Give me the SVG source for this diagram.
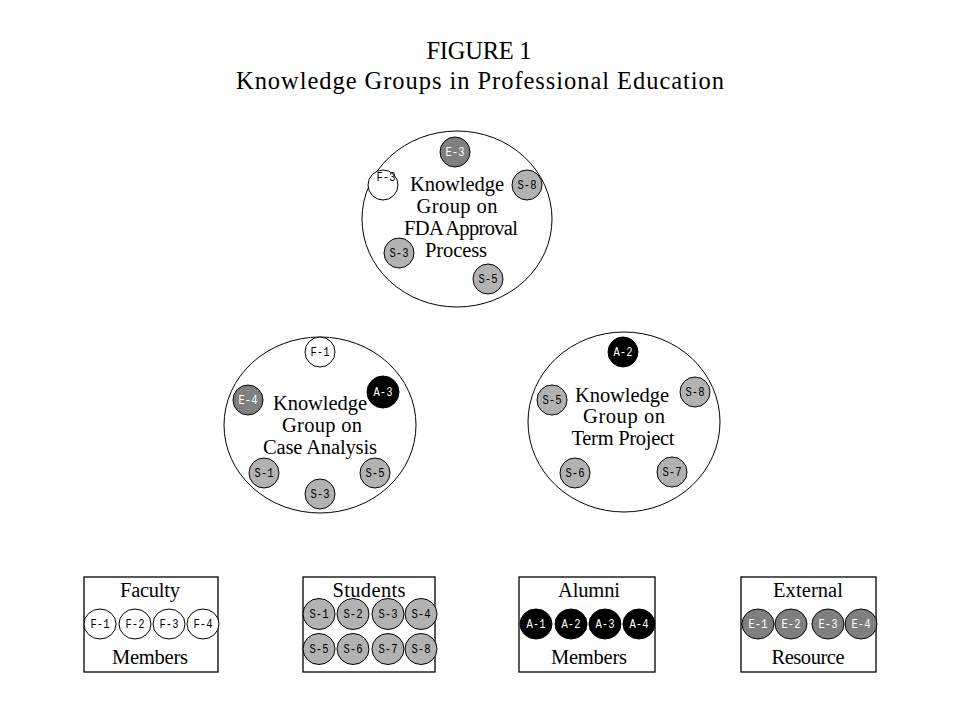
<svg xmlns="http://www.w3.org/2000/svg" width="959" height="719" viewBox="0 0 959 719">
<style>
.bg{fill:#fff}
.big{fill:#fff;stroke:#000;stroke-width:1}
.box{fill:#fff;stroke:#000;stroke-width:1.3}
.m{stroke:#000;stroke-width:1}
.f{fill:#fff}
.s{fill:#b2b2b2}
.a{fill:#000}
.e{fill:#7f7f7f}
.t{font-family:"Liberation Serif","Times New Roman",serif;font-size:20.5px;fill:#000;text-anchor:middle}
.title{font-family:"Liberation Serif","Times New Roman",serif;font-size:24.5px;fill:#000;text-anchor:middle}
.l{font-family:"Liberation Mono","Courier New",monospace;font-size:12px;fill:#000;text-anchor:middle}
.lw{font-family:"Liberation Mono","Courier New",monospace;font-size:12px;fill:#fff;text-anchor:middle}
</style>
<rect class="bg" x="0" y="0" width="959" height="719"/>

<g id="title">
<text class="title" x="479" y="59" textLength="105">FIGURE 1</text>
<text class="title" x="480" y="89" textLength="488">Knowledge Groups in Professional Education</text>
</g>

<g id="group-fda">
<ellipse class="big" cx="457" cy="219" rx="95" ry="88"/>
<text class="t" x="457" y="191" textLength="94">Knowledge</text>
<text class="t" x="457" y="213" textLength="81">Group on</text>
<text class="t" x="461" y="235" textLength="114">FDA Approval</text>
<text class="t" x="456" y="257" textLength="62">Process</text>
<circle class="m e" cx="455" cy="152" r="15"/><text class="lw" x="455" y="156" textLength="19" lengthAdjust="spacingAndGlyphs">E-3</text>
<circle class="m s" cx="527" cy="185" r="15"/><text class="l" x="527" y="189" textLength="19" lengthAdjust="spacingAndGlyphs">S-8</text>
<circle class="m f" cx="383" cy="185" r="15"/><text class="l" x="386" y="181" textLength="19" lengthAdjust="spacingAndGlyphs">F-3</text>
<circle class="m s" cx="399" cy="253" r="15"/><text class="l" x="399" y="257" textLength="19" lengthAdjust="spacingAndGlyphs">S-3</text>
<circle class="m s" cx="488" cy="279" r="15"/><text class="l" x="488" y="283" textLength="19" lengthAdjust="spacingAndGlyphs">S-5</text>
</g>

<g id="group-case">
<ellipse class="big" cx="320" cy="425" rx="96" ry="88"/>
<text class="t" x="320" y="410" textLength="94">Knowledge</text>
<text class="t" x="322" y="432" textLength="80">Group on</text>
<text class="t" x="320" y="454" textLength="114">Case Analysis</text>
<circle class="m f" cx="320" cy="352" r="15"/><text class="l" x="320" y="356" textLength="19" lengthAdjust="spacingAndGlyphs">F-1</text>
<circle class="m e" cx="248" cy="400" r="15"/><text class="lw" x="248" y="404" textLength="19" lengthAdjust="spacingAndGlyphs">E-4</text>
<circle class="m a" cx="383" cy="392" r="16"/><text class="lw" x="383" y="396" textLength="19" lengthAdjust="spacingAndGlyphs">A-3</text>
<circle class="m s" cx="264" cy="473" r="15"/><text class="l" x="264" y="477" textLength="19" lengthAdjust="spacingAndGlyphs">S-1</text>
<circle class="m s" cx="375" cy="473" r="15"/><text class="l" x="375" y="477" textLength="19" lengthAdjust="spacingAndGlyphs">S-5</text>
<circle class="m s" cx="320" cy="494" r="15"/><text class="l" x="320" y="498" textLength="19" lengthAdjust="spacingAndGlyphs">S-3</text>
</g>

<g id="group-term">
<ellipse class="big" cx="624" cy="422" rx="96" ry="90"/>
<text class="t" x="622" y="402" textLength="94">Knowledge</text>
<text class="t" x="624" y="423" textLength="82">Group on</text>
<text class="t" x="623" y="445" textLength="103">Term Project</text>
<circle class="m a" cx="623" cy="352" r="15"/><text class="lw" x="623" y="356" textLength="19" lengthAdjust="spacingAndGlyphs">A-2</text>
<circle class="m s" cx="552" cy="400" r="15"/><text class="l" x="552" y="404" textLength="19" lengthAdjust="spacingAndGlyphs">S-5</text>
<circle class="m s" cx="695" cy="392" r="15"/><text class="l" x="695" y="396" textLength="19" lengthAdjust="spacingAndGlyphs">S-8</text>
<circle class="m s" cx="575" cy="473" r="15"/><text class="l" x="575" y="477" textLength="19" lengthAdjust="spacingAndGlyphs">S-6</text>
<circle class="m s" cx="672" cy="472" r="15"/><text class="l" x="672" y="476" textLength="19" lengthAdjust="spacingAndGlyphs">S-7</text>
</g>

<g id="faculty">
<rect class="box" x="84" y="577" width="134" height="95"/>
<text class="t" x="150" y="597" textLength="60">Faculty</text>
<text class="t" x="150" y="664" textLength="76">Members</text>
<ellipse class="m f" cx="100" cy="624" rx="16" ry="15"/><text class="l" x="100" y="628" textLength="19" lengthAdjust="spacingAndGlyphs">F-1</text>
<ellipse class="m f" cx="135" cy="624" rx="16" ry="15"/><text class="l" x="135" y="628" textLength="19" lengthAdjust="spacingAndGlyphs">F-2</text>
<ellipse class="m f" cx="169" cy="624" rx="16" ry="15"/><text class="l" x="169" y="628" textLength="19" lengthAdjust="spacingAndGlyphs">F-3</text>
<ellipse class="m f" cx="203" cy="624" rx="16" ry="15"/><text class="l" x="203" y="628" textLength="19" lengthAdjust="spacingAndGlyphs">F-4</text>
</g>

<g id="students">
<rect class="box" x="303" y="577" width="132" height="95"/>
<text class="t" x="369" y="597" textLength="73">Students</text>
<ellipse class="m s" cx="319" cy="614" rx="16" ry="15.5"/><text class="l" x="319" y="618" textLength="19" lengthAdjust="spacingAndGlyphs">S-1</text>
<ellipse class="m s" cx="353" cy="614" rx="16" ry="15.5"/><text class="l" x="353" y="618" textLength="19" lengthAdjust="spacingAndGlyphs">S-2</text>
<ellipse class="m s" cx="388" cy="614" rx="16" ry="15.5"/><text class="l" x="388" y="618" textLength="19" lengthAdjust="spacingAndGlyphs">S-3</text>
<ellipse class="m s" cx="421" cy="614" rx="16" ry="15.5"/><text class="l" x="421" y="618" textLength="19" lengthAdjust="spacingAndGlyphs">S-4</text>
<ellipse class="m s" cx="319" cy="649" rx="16" ry="15.5"/><text class="l" x="319" y="653" textLength="19" lengthAdjust="spacingAndGlyphs">S-5</text>
<ellipse class="m s" cx="353" cy="649" rx="16" ry="15.5"/><text class="l" x="353" y="653" textLength="19" lengthAdjust="spacingAndGlyphs">S-6</text>
<ellipse class="m s" cx="388" cy="649" rx="16" ry="15.5"/><text class="l" x="388" y="653" textLength="19" lengthAdjust="spacingAndGlyphs">S-7</text>
<ellipse class="m s" cx="421" cy="649" rx="16" ry="15.5"/><text class="l" x="421" y="653" textLength="19" lengthAdjust="spacingAndGlyphs">S-8</text>
</g>

<g id="alumni">
<rect class="box" x="519" y="577" width="136" height="95"/>
<text class="t" x="589" y="597" textLength="62">Alumni</text>
<text class="t" x="589" y="664" textLength="76">Members</text>
<ellipse class="m a" cx="536" cy="624" rx="16" ry="15"/><text class="lw" x="536" y="628" textLength="19" lengthAdjust="spacingAndGlyphs">A-1</text>
<ellipse class="m a" cx="571" cy="624" rx="16" ry="15"/><text class="lw" x="571" y="628" textLength="19" lengthAdjust="spacingAndGlyphs">A-2</text>
<ellipse class="m a" cx="605" cy="624" rx="16" ry="15"/><text class="lw" x="605" y="628" textLength="19" lengthAdjust="spacingAndGlyphs">A-3</text>
<ellipse class="m a" cx="639" cy="624" rx="16" ry="15"/><text class="lw" x="639" y="628" textLength="19" lengthAdjust="spacingAndGlyphs">A-4</text>
</g>

<g id="external">
<rect class="box" x="741" y="577" width="135" height="95"/>
<text class="t" x="808" y="597" textLength="70">External</text>
<text class="t" x="808" y="664" textLength="73">Resource</text>
<ellipse class="m e" cx="758" cy="624" rx="16" ry="15"/><text class="lw" x="758" y="628" textLength="19" lengthAdjust="spacingAndGlyphs">E-1</text>
<ellipse class="m e" cx="791" cy="624" rx="16" ry="15"/><text class="lw" x="791" y="628" textLength="19" lengthAdjust="spacingAndGlyphs">E-2</text>
<ellipse class="m e" cx="828" cy="624" rx="16" ry="15"/><text class="lw" x="828" y="628" textLength="19" lengthAdjust="spacingAndGlyphs">E-3</text>
<ellipse class="m e" cx="861" cy="624" rx="16" ry="15"/><text class="lw" x="861" y="628" textLength="19" lengthAdjust="spacingAndGlyphs">E-4</text>
</g>

<g id="connectors"></g>
</svg>
